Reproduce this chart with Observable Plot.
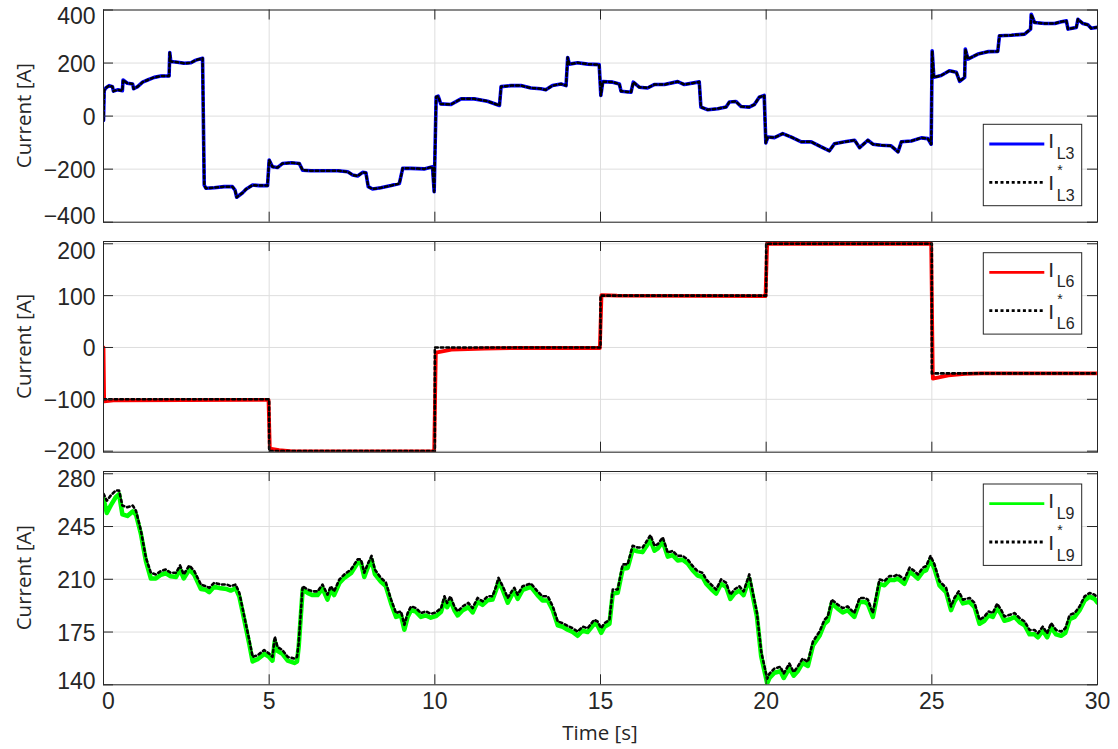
<!DOCTYPE html>
<html><head><meta charset="utf-8">
<script src="https://cdn.jsdelivr.net/npm/d3@7"></script>
<script src="https://cdn.jsdelivr.net/npm/@observablehq/plot@0.6"></script>
<style>
body{margin:0;background:#fff}
#chart{width:1118px;height:749px;position:relative;background:#fff}
#chart svg{display:block}
</style>
</head><body><div id="chart"></div>
<script>
// ---------- DATA ----------
const xTicks = [0, 5, 10, 15, 20, 25, 30];

// Panel 1: I_L3 (measured) and I_L3* (reference)
const t1 = [
  0, 0.02, 0.07, 0.17, 0.27, 0.30, 0.42, 0.57, 0.59, 0.72,
  0.88, 0.91, 1.03, 1.18, 1.33, 1.53, 1.73, 1.98, 2.00, 2.03,
  2.23, 2.44, 2.64, 2.79, 2.99, 3.04, 3.09, 3.34, 3.64, 3.89,
  3.97, 4.02, 4.20, 4.30, 4.50, 4.70, 4.95, 5.00, 5.10, 5.25,
  5.40, 5.66, 5.91, 6.01, 6.26, 6.66, 7.07, 7.37, 7.52, 7.67,
  7.82, 7.92, 7.99, 8.12, 8.37, 8.68, 8.93, 9.03, 9.28, 9.68,
  9.93, 9.98, 10.04, 10.10, 10.18, 10.49, 10.79, 11.19, 11.59, 11.95,
  12.0, 12.3, 12.6, 12.9, 13.2, 13.35, 13.55, 13.81, 13.96, 14.01,
  14.06, 14.31, 14.61, 14.96, 15.01, 15.07, 15.37, 15.57, 15.62, 15.92,
  15.99, 16.17, 16.42, 16.62, 16.93, 17.33, 17.53, 17.98, 18.03, 18.24,
  18.54, 18.79, 18.89, 19.09, 19.24, 19.49, 19.64, 19.79, 19.94, 19.99,
  20.05, 20.25, 20.5, 20.76, 21.06, 21.36, 21.66, 21.91, 22.06, 22.37,
  22.67, 22.82, 23.07, 23.22, 23.47, 23.77, 23.98, 24.08, 24.38, 24.68,
  24.88, 24.98, 25.01, 25.06, 25.28, 25.53, 25.74, 25.84, 25.99, 26.01,
  26.09, 26.39, 26.69, 26.99, 27.04, 27.40, 27.8, 27.98, 28.0, 28.1,
  28.4, 28.71, 28.91, 29.06, 29.11, 29.36, 29.41, 29.56, 29.71, 29.81, 30.0
];
const iL3 = [
  -16, 96, 106, 115, 111, 94, 99, 96, 136, 124,
  121, 103, 111, 128, 136, 146, 151, 151, 240, 206,
  203, 199, 201, 211, 218, -260, -272, -270, -266, -266,
  -279, -306, -289, -276, -260, -262, -262, -166, -191, -194,
  -179, -176, -179, -204, -206, -206, -206, -210, -222, -226,
  -212, -214, -266, -275, -270, -262, -254, -197, -197, -199,
  -191, -285, 72, 75, 46, 44, 65, 65, 56, 40,
  111, 115, 115, 106, 103, 99, 115, 121, 115, 221,
  196, 201, 196, 194, 78, 130, 128, 121, 94, 90,
  128, 109, 106, 119, 119, 130, 119, 129, 34, 24,
  28, 34, 53, 55, 36, 34, 43, 71, 78, -101,
  -79, -81, -66, -79, -97, -97, -116, -131, -104, -97,
  -91, -119, -91, -106, -110, -112, -135, -97, -94, -82,
  -85, -106, 246, 146, 153, 171, 165, 131, 146, 253,
  215, 234, 243, 244, 303, 305, 309, 328, 384, 353,
  349, 349, 356, 359, 328, 334, 365, 349, 344, 331, 335
];
const iL3ref = iL3.slice(); // reference trace coincides with the measurement

// Panel 2: I_L6 and I_L6*
const t2 = [0, 0.02, 0.3, 4.98, 5.02, 5.3, 5.7, 9.98, 10.03, 10.5, 11.5, 12.5,
  14.98, 15.03, 15.5, 19.98, 20.03, 24.98, 25.03, 25.5, 26, 26.5, 30];
const iL6 = [0, -104, -102, -101, -195, -198, -200.5, -200.5, -10, -4, -2, -1,
  -1, 101, 100, 99, 200.5, 200, -60, -54, -51, -50, -50];
const t6ref = [0, 5, 10, 15, 20, 25, 30];
const iL6ref = [-100, -200, 0, 100, 200, -50, -50];

// Panel 3: I_L9 and I_L9*
const t3 = [
  0, 0.1, 0.22, 0.37, 0.47, 0.57, 0.72, 0.88, 0.98,
  1.13, 1.28, 1.43, 1.58, 1.73, 1.88, 2.03, 2.19, 2.31, 2.42, 2.59, 2.74,
  2.94, 3.09, 3.19, 3.34, 3.54, 3.72, 3.84, 3.99, 4.10,
  4.25, 4.40, 4.50, 4.65, 4.85, 5.0, 5.10, 5.17, 5.25, 5.40, 5.56, 5.76, 5.84, 5.89,
  6.01, 6.16, 6.31, 6.46, 6.61, 6.76, 6.86, 6.96, 7.12,
  7.27, 7.47, 7.67, 7.77, 7.87, 7.97, 8.09, 8.19, 8.37,
  8.52, 8.68, 8.83, 8.98, 9.08, 9.18, 9.28, 9.43, 9.58, 9.73, 9.88,
  10.03, 10.19, 10.29, 10.37, 10.47, 10.59, 10.69, 10.84, 11.01,
  11.14, 11.29, 11.44, 11.59, 11.74, 11.85, 11.92, 12.05,
  12.2, 12.32, 12.4, 12.5, 12.65, 12.9, 13.1, 13.25, 13.41,
  13.56, 13.71, 13.86, 14.01, 14.16, 14.31, 14.46, 14.61,
  14.81, 14.91, 15.02, 15.12, 15.27, 15.37, 15.52, 15.67, 15.82,
  15.97, 16.12, 16.27, 16.37, 16.51, 16.63, 16.73, 16.88, 17.03,
  17.18, 17.33, 17.48, 17.63, 17.78, 17.93, 18.08, 18.19,
  18.34, 18.49, 18.64, 18.79, 18.92, 19.04, 19.19, 19.32, 19.49,
  19.6, 19.72, 19.85, 20.03, 20.1, 20.25, 20.43, 20.53, 20.70, 20.83, 20.95,
  21.10, 21.26, 21.41, 21.61, 21.76, 21.86, 21.98, 22.16, 22.31,
  22.46, 22.66, 22.82, 22.97, 23.07, 23.22, 23.42, 23.57,
  23.72, 23.87, 23.97, 24.17, 24.33, 24.48, 24.58, 24.73, 24.83,
  24.96, 25.08, 25.23, 25.43, 25.58, 25.68, 25.81, 25.94, 26.14,
  26.29, 26.44, 26.59, 26.71, 26.84, 26.97, 27.09, 27.19, 27.35,
  27.50, 27.65, 27.80, 27.95, 28.10, 28.2, 28.35, 28.48, 28.6,
  28.75, 28.90, 29.03, 29.16, 29.31, 29.46, 29.61, 29.76, 29.91, 30.0
];
const iL9ref = [
  266.7, 262.2, 265.6, 268.9, 268.9, 258.9, 257.8, 258.9, 255.5,
  242.2, 224.3, 214.3, 213.2, 215.4, 216.5, 214.3, 214.3, 219.2, 213.2, 219.2, 215.4,
  206.5, 205.4, 204.3, 207.7, 206.5, 206.5, 205.4, 206.5, 200.9,
  185.2, 169.7, 158.5, 159.6, 163, 160.7, 158.5, 171.9, 165.2, 163, 158.5, 157.4, 158.5, 167.4,
  205.4, 203.2, 202, 202, 206.5, 199.8, 205.4, 202, 209.9,
  213.2, 216.5, 223.2, 223.2, 214.3, 219.9, 225.5, 216.5, 210.9,
  208, 196.5, 187.6, 188.7, 179.8, 187.6, 192, 190.9, 187.6, 188.7, 187.1,
  188, 190.9, 198.7, 194.3, 198.7, 192, 188.7, 192, 194.3,
  190.9, 197.6, 195.4, 198.7, 198.7, 205.4, 210.9, 205.4,
  197.6, 202, 204.3, 199.8, 205.4, 207.2, 202, 198.7, 198.7,
  192, 182, 180.9, 179.1, 177.5, 175.3, 178.6, 177.5,
  183.1, 182, 177.5, 180.9, 183.1, 203.2, 203.2, 219.9, 219.9,
  232.2, 231.1, 231.1, 234.4, 239.3, 232.2, 233.3, 237.8, 227.7,
  228.8, 225.5, 225.5, 223.2, 218.8, 215.4, 214.3, 209.9,
  206.5, 203.2, 209.9, 207.7, 199.8, 203.2, 205.4, 202, 213.2,
  201, 188, 162, 144.1, 147.4, 150.8, 151.9, 147.4, 154.1, 148.5, 151.9,
  157.4, 155.2, 168.6, 175.3, 183.1, 185.3, 196.5, 193.2, 190.9,
  192, 187.6, 197.6, 197.6, 196.5, 187.6, 209.9, 208.8,
  212.1, 212.1, 213.2, 209.9, 217.7, 215.4, 213.2, 217.7, 218.8,
  225.5, 219.9, 208.8, 204.3, 192, 197.6, 202, 196.5, 197.6,
  194.3, 183.1, 185.3, 188.7, 187.6, 193.8, 189.8, 185.3, 186.4,
  187.6, 184.2, 182, 176.4, 176.4, 174.2, 178.6, 174.2, 180.9,
  176.4, 175.3, 177.5, 186.4, 187.6, 192, 198.7, 200.9, 199.8, 197.6
];
const iL9 = [
  263.5, 254, 259, 264.5, 266.5, 253, 252, 255, 253,
  240, 222, 210.5, 210.5, 213, 214, 212, 211.5, 216.5, 210.5, 216.5, 213,
  203.5, 203, 201.5, 205, 204, 203.5, 202.5, 204, 198.5,
  183, 167, 155.5, 157, 160.5, 158.5, 156, 169, 162.5, 160.5, 156, 154.5, 155.5, 165,
  203, 201, 199.5, 199.5, 204, 196.5, 203, 199.5, 207.5,
  211, 214, 221, 221, 211.5, 217.5, 223, 213.5, 208.5,
  205.5, 194, 185, 186, 176.5, 185, 189.5, 188.5, 185, 186, 184.5,
  185.5, 188.5, 196, 191.5, 196, 189.5, 186, 189.5, 191.5,
  188, 195, 193, 196, 196.5, 203, 208.5, 203,
  194.5, 199.5, 202, 197, 203, 205, 199.5, 196, 196,
  189.5, 179.5, 178.5, 176.5, 175, 172.5, 176, 175,
  180.5, 179.5, 174.5, 178.5, 180.5, 200.5, 201, 217, 217.5,
  229.5, 228.5, 228, 231.5, 236, 229, 230.5, 235, 225,
  226, 222.5, 223, 220.5, 216, 212.5, 211.5, 207,
  203.5, 200.5, 207, 205, 197, 200.5, 202.5, 199.5, 210.5,
  198.5, 185.5, 159, 141, 144.5, 148, 149, 144.5, 151, 146, 149,
  154.5, 152.5, 166, 172.5, 180.5, 182.5, 194, 190.5, 188,
  189.5, 185, 195, 195, 193.5, 185, 207, 206,
  209.5, 209.5, 210.5, 207, 215, 212.5, 210.5, 215, 216,
  223, 217, 206, 201.5, 189.5, 195, 199.5, 194, 195,
  191.5, 180.5, 182.5, 186, 185, 191, 187, 182.5, 183.5,
  185, 181.5, 179.5, 173.5, 173.5, 171.5, 176, 171.5, 178,
  173.5, 172.5, 174.5, 183.5, 185, 189.5, 196, 198.5, 197, 194.5
];

const yTicks1 = [-400, -200, 0, 200, 400];
const yTicks2 = [-200, -100, 0, 100, 200];
const yTicks3 = [140, 175, 210, 245, 280];

// ---------- DRAWING ----------
const W = 1118, ML = 103, MR = 21, TICK = 10;
const INK = "#262626";
const GRID = "#dedede";
const plotW = W - ML - MR;
const tickFont = "'Liberation Sans', Arial, Helvetica, sans-serif";
const labelFont = "'Open Sans', 'Noto Sans', sans-serif";
const TFS = 23, LFS = 20.5;
const DOT = "2.6,3";

const rows = (t, v) => t.map((d, i) => ({t: d, v: v[i]}));

function panel(cfg) {
  const plotH = cfg.height - cfg.mt - cfg.mb;
  const yt = cfg.yTicks;
  const marks = [
    Plot.gridX(xTicks, {stroke: GRID, strokeOpacity: 1, strokeWidth: 1}),
    Plot.gridY(yt, {stroke: GRID, strokeOpacity: 1, strokeWidth: 1}),
    ...cfg.lines,
    Plot.ruleY(yt, {stroke: INK, strokeWidth: 1, insetRight: plotW - TICK}),
    Plot.ruleY(yt, {stroke: INK, strokeWidth: 1, insetLeft: plotW - TICK}),
    Plot.ruleX(xTicks, {stroke: INK, strokeWidth: 1, insetTop: plotH - TICK}),
    Plot.ruleX(xTicks, {stroke: INK, strokeWidth: 1, insetBottom: plotH - TICK}),
    Plot.frame({stroke: INK, strokeWidth: 1}),
    Plot.axisY(yt.slice(1, -1), {tickSize: 0, tickPadding: 8, fontSize: TFS, label: null, fill: INK, dy: 1.5}),
    Plot.axisY([yt[yt.length - 1]], {tickSize: 0, tickPadding: 8, fontSize: TFS, label: null, fill: INK, dy: cfg.topDy}),
    Plot.axisY([yt[0]], {tickSize: 0, tickPadding: 8, fontSize: TFS, label: null, fill: INK, dy: cfg.botDy})
  ];
  if (cfg.showX) {
    marks.push(Plot.axisX(xTicks.slice(1), {tickSize: 0, tickPadding: 8, fontSize: TFS, label: null, fill: INK}));
    marks.push(Plot.axisX([xTicks[0]], {tickSize: 0, tickPadding: 8, fontSize: TFS, label: null, fill: INK, dx: 5}));
  }
  const svg = Plot.plot({
    width: W, height: cfg.height,
    marginLeft: ML, marginRight: MR, marginTop: cfg.mt, marginBottom: cfg.mb,
    x: {domain: [0, 30], axis: cfg.showX ? undefined : null},
    y: {domain: cfg.yDomain, axis: null},
    style: {fontFamily: tickFont, color: INK, background: "white", overflow: "visible"},
    marks
  });
  const s = d3.select(svg);
  s.append("text")
    .attr("transform", `translate(23,${cfg.mt + plotH / 2}) rotate(-90)`)
    .attr("text-anchor", "middle").attr("dominant-baseline", "central")
    .attr("font-family", labelFont).attr("font-size", LFS).attr("fill", INK)
    .text("Current [A]");
  if (cfg.xLabel) {
    s.append("text")
      .attr("x", ML + plotW / 2).attr("y", cfg.height - 17)
      .attr("text-anchor", "middle").attr("dominant-baseline", "central")
      .attr("font-family", labelFont).attr("font-size", LFS).attr("fill", INK)
      .text(cfg.xLabel);
  }
  // legend
  const lx = 983.3, ly = cfg.legendY, lw = 98.4, lh = 81.4;
  const g = s.append("g").attr("font-family", tickFont).attr("fill", INK).attr("text-anchor", "start");
  g.append("rect").attr("x", lx).attr("y", ly).attr("width", lw).attr("height", lh)
    .attr("fill", "white").attr("stroke", INK).attr("stroke-width", 1);
  g.append("line").attr("x1", lx + 6).attr("x2", lx + 61).attr("y1", ly + 19.7).attr("y2", ly + 19.7)
    .attr("stroke", cfg.color).attr("stroke-width", 2.8);
  g.append("line").attr("x1", lx + 6).attr("x2", lx + 61).attr("y1", ly + 58).attr("y2", ly + 58)
    .attr("stroke", "black").attr("stroke-width", 2.8).attr("stroke-dasharray", "3,2.6");
  // row 1: I with subscript
  const r1 = g.append("text").attr("x", lx + 65).attr("y", ly + 24).attr("font-size", 21);
  r1.append("tspan").text("I");
  r1.append("tspan").attr("dx", 2.5).attr("dy", 10.5).attr("font-size", 16).text(cfg.sub);
  // row 2: I with superscript * and subscript
  const r2 = g.append("text").attr("x", lx + 65).attr("y", ly + 66).attr("font-size", 21);
  r2.append("tspan").text("I");
  r2.append("tspan").attr("dx", 3).attr("dy", -15).attr("font-size", 14).text("*");
  r2.append("tspan").attr("x", lx + 73.5).attr("dy", 25.5).attr("font-size", 16).text(cfg.sub);
  return svg;
}

const chart = document.getElementById("chart");

chart.append(panel({
  height: 230, mt: 9.5, mb: 8.3, yDomain: [-400, 400], yTicks: yTicks1, showX: false,
  topDy: 7, botDy: -6,
  legendY: 124.3, color: "#0000ff", sub: "L3",
  lines: [
    Plot.line(rows(t1, iL3), {x: "t", y: "v", stroke: "#0000ff", strokeWidth: 3.6, clip: true}),
    Plot.line(rows(t1, iL3ref), {x: "t", y: "v", stroke: "black", strokeWidth: 2.5, strokeDasharray: DOT, clip: true})
  ]
}));

chart.append(panel({
  height: 230, mt: 11, mb: 8.3, yDomain: [-202, 204.4], yTicks: yTicks2, showX: false,
  topDy: 8, botDy: 0,
  legendY: 22.7, color: "#ff0000", sub: "L6",
  lines: [
    Plot.line(rows(t2, iL6), {x: "t", y: "v", stroke: "#ff0000", strokeWidth: 3.8, clip: true}),
    Plot.line(rows(t6ref, iL6ref), {x: "t", y: "v", curve: "step-after", stroke: "black", strokeWidth: 2.6, strokeDasharray: DOT, clip: true})
  ]
}));

chart.append(panel({
  height: 289, mt: 11, mb: 64.7, yDomain: [140, 281.5], yTicks: yTicks3, showX: true, xLabel: "Time [s]",
  topDy: 6, botDy: -3,
  legendY: 24, color: "#00ff00", sub: "L9",
  lines: [
    Plot.line(rows(t3, iL9), {x: "t", y: "v", stroke: "#00ff00", strokeWidth: 4.5, clip: true}),
    Plot.line(rows(t3, iL9ref), {x: "t", y: "v", stroke: "black", strokeWidth: 2.6, strokeDasharray: DOT, clip: true})
  ]
}));
</script>
</body></html>
